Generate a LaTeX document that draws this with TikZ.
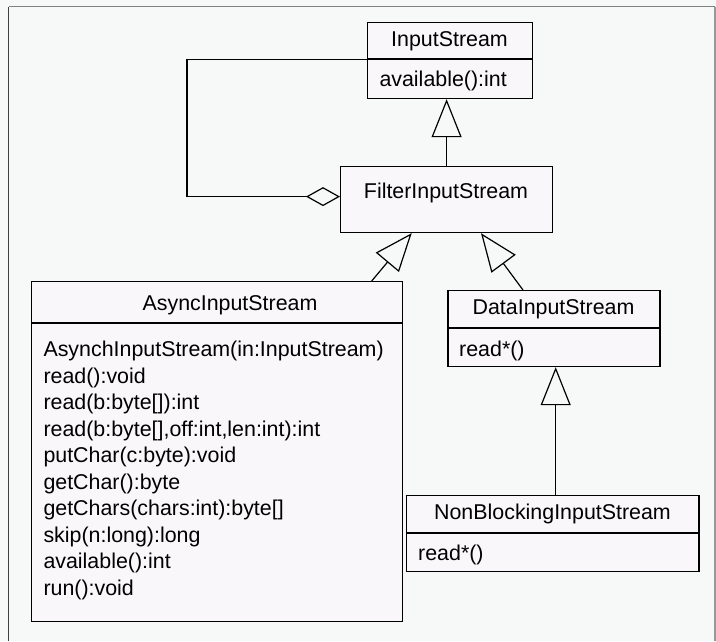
\documentclass[tikz,border=0pt]{standalone}
\usepackage{fontspec}
\setmainfont{Liberation Sans}
\usetikzlibrary{arrows.meta}
\definecolor{bgcol}{HTML}{F7F8F8}
\definecolor{boxcol}{HTML}{F9F7FA}
\begin{document}
\begin{tikzpicture}[x=1pt,y=-1pt,
  font=\fontsize{21.4}{26.5}\selectfont,
  umlbox/.style={draw=black,fill=boxcol,line width=1.2pt,rectangle,inner sep=0pt,anchor=north west},
  divider/.style={draw=black,line width=1.2pt},
  txt/.style={anchor=base,inner sep=0pt},
  member/.style={anchor=base west,inner sep=0pt},
  conn/.style={draw=black,line width=1.2pt},
  inherit/.style={conn,-{Triangle[open,length=38pt,width=30pt]}},
  aggregate/.style={conn,-{Diamond[open,length=34pt,width=19pt]}}
]
% canvas and frame
\fill[bgcol] (0,0) rectangle (716,641);
\useasboundingbox (0,0) rectangle (716,641);
\draw[line width=1.6pt,color=black!75] (8.5,641) -- (8.5,6.5);
\draw[line width=1.6pt,color=black!50] (8.5,6.5) -- (715,6.5);
\draw[line width=1.2pt,color=black!40] (715,6.5) -- (715,641);

% InputStream
\node[umlbox,minimum width=164.7pt,minimum height=76pt] (input) at (367,22) {};
\draw[divider] (367,59) -- (531.7,59);
\node[txt] (inputT) at (449.5,46.7) {InputStream};
\node[member] (inputM) at (379.3,86.7) {available():int};

% FilterInputStream
\node[umlbox,minimum width=212pt,minimum height=66pt] (filter) at (340,166) {};
\node[txt] (filterT) at (446,198.3) {FilterInputStream};

% AsyncInputStream
\node[umlbox,minimum width=371pt,minimum height=340pt] (async) at (31,281) {};
\draw[divider] (31,323) -- (402,323);
\node[txt] (asyncT) at (230,310.7) {AsyncInputStream};
\node[member,align=left,anchor=north west] (asyncM) at (43.3,341) {%
AsynchInputStream(in:InputStream)\\
read():void\\
read(b:byte[]):int\\
read(b:byte[],off:int,len:int):int\\
putChar(c:byte):void\\
getChar():byte\\
getChars(chars:int):byte[]\\
skip(n:long):long\\
available():int\\
run():void};

% DataInputStream
\node[umlbox,minimum width=212pt,minimum height=76pt] (data) at (447.3,290) {};
\draw[divider] (447.3,328) -- (659.3,328);
\node[txt] (dataT) at (553.5,314) {DataInputStream};
\node[member] (dataM) at (459,356) {read*()};

% NonBlockingInputStream
\node[umlbox,minimum width=292.3pt,minimum height=76pt] (nbis) at (406,495) {};
\draw[divider] (406,533) -- (698.3,533);
\node[txt] (nbisT) at (552.5,519) {NonBlockingInputStream};
\node[member] (nbisM) at (418,560) {read*()};

% generalisations
\draw[inherit] (filter.north) -- (filter.north |- input.south);
\draw[inherit] ([xshift=340.7pt]async.north west) -- ([xshift=71.7pt]filter.south west);
\draw[inherit] ([xshift=75.7pt]data.north west) -- ([xshift=141pt]filter.south west);
\draw[inherit] ([xshift=149.7pt]nbis.north west) -- ([xshift=149.7pt]nbis.north west |- data.south);

% aggregation of the wrapped stream
\draw[aggregate] ([yshift=1pt]input.west) -- ++(-180,0) |- ([yshift=3pt]filter.west);
\end{tikzpicture}
\end{document}
